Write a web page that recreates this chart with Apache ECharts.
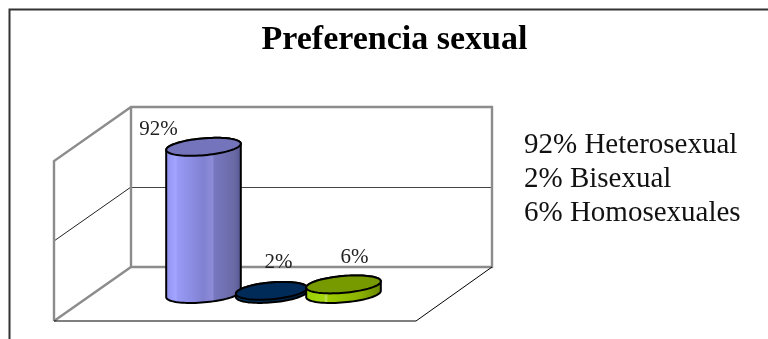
<!DOCTYPE html>
<html><head><meta charset="utf-8">
<style>html,body{margin:0;padding:0;background:#fff}#c{width:768px;height:339px}</style>
<script src="https://cdn.jsdelivr.net/npm/echarts@6/dist/echarts.min.js"></script>
</head><body><div id="c"></div>
<script>
const titleText = 'Preferencia sexual';
const categories = ['Heterosexual', 'Bisexual', 'Homosexuales'];
const values = [92, 2, 6];
const sideLabels = ['92% Heterosexual', '2% Bisexual', '6% Homosexuales'];
const wallTicks = [0, 50, 100];

const FONT = '"Liberation Serif", serif';
const GREY = '#8c8c8c';
const themes = [
  {top:'#7474bc', stroke:'#000', stops:[[0,'#8f8fe8'],[.08,'#9a9cfa'],[.14,'#a3a5ff'],[.16,'#989af6'],[.5,'#8181d2'],[.62,'#8c8cd8'],[.64,'#7777c0'],[.8,'#6f6fb0'],[.9,'#6a6aa6'],[1,'#555590']]},
  {top:'#002a58', stroke:'#000', stops:[[0,'#003a70'],[1,'#001e40']]},
  {top:'#769a00', stroke:'#000', stops:[[0,'#99cc00'],[.25,'#a6d810'],[.27,'#c0e060'],[.3,'#9ccb00'],[.7,'#8cb400'],[1,'#688800']]}
];
const labelOffset = [[-45,-17],[7,-28],[11,-27]];
const centerNudge = [0,-2,0];
const radiusScale = [1,.955,1];

function ellipse(cx, cy, rx, ry, from, to, n) {
  const a = -5 * Math.PI / 180, pts = [];
  for (let k = 0; k <= n; k++) {
    const t = from + (to - from) * k / n;
    pts.push([
      cx + rx * Math.cos(t) * Math.cos(a) - ry * Math.sin(t) * Math.sin(a),
      cy + rx * Math.cos(t) * Math.sin(a) + ry * Math.sin(t) * Math.cos(a)
    ]);
  }
  return pts;
}

function renderCylinder(params, api) {
  const i = api.value(0), v = api.value(1);
  const base = api.coord([i, 0]), top = api.coord([i, v]);
  const t = themes[i];
  const cx = base[0] + centerNudge[i];
  const rx = api.size([1, 0])[0] * 0.535 * radiusScale[i], ry = 8.4;
  const body = ellipse(cx, base[1], rx, ry, 0, Math.PI, 40)
    .concat(ellipse(cx, top[1], rx, ry, Math.PI, 2 * Math.PI, 40));
  return {type:'group', children:[
    {type:'polygon', shape:{points:body},
     style:{fill:{type:'linear',x:0,y:0,x2:1,y2:0,colorStops:t.stops.map(s=>({offset:s[0],color:s[1]}))},stroke:t.stroke,lineWidth:2}},
    {type:'polygon', shape:{points:ellipse(cx, top[1], rx, ry, 0, 2*Math.PI, 80)},
     style:{fill:t.top,stroke:t.stroke,lineWidth:2}},
    {type:'text', style:{text:v+'%',x:cx+labelOffset[i][0],y:top[1]+labelOffset[i][1],
      align:'center',verticalAlign:'middle',font:'21px '+FONT,fill:'#222'}}
  ]};
}

const line = (points, stroke, lineWidth) => ({type:'polyline', z:2, shape:{points}, style:{fill:null, stroke, lineWidth}});

const chart = echarts.init(document.getElementById('c'), null, {renderer:'canvas'});
chart.setOption({
  animation:false,
  backgroundColor:'#fff',
  title:{text:titleText,left:389.5,top:18,textAlign:'center',
    textStyle:{fontFamily:FONT,fontSize:34,fontWeight:'bold',color:'#000'}},
  grid:[
    {left:131,top:107,width:362,height:160},
    {left:168.5,top:134,width:210,height:160}
  ],
  xAxis:[
    {gridIndex:0,type:'category',data:categories,show:false},
    {gridIndex:1,type:'category',data:categories,show:false}
  ],
  yAxis:[
    {gridIndex:0,type:'value',min:wallTicks[0],max:wallTicks[2],interval:wallTicks[1],
     axisLine:{show:false},axisTick:{show:false},axisLabel:{show:false},
     splitLine:{show:true,lineStyle:{color:'#444',width:1}}},
    {gridIndex:1,type:'value',min:0,max:100,show:false}
  ],
  graphic:[
    line([[9.5,339],[9.5,9.5],[768,9.5]],'#333',2),
    line([[54,241],[131,187]],'#222',1),
    line([[54,321],[131,267],[492,267],[492,107],[131,107],[54,161],[54,321]],GREY,2.4),
    line([[131,107],[131,267]],GREY,2.4),
    line([[54,321],[416,321],[492,267]],'#000',1),
    ...sideLabels.map((s,k)=>({type:'text',z:3,style:{text:s,x:524,y:145+k*34,verticalAlign:'middle',font:'29px '+FONT,fill:'#111'}}))
  ],
  series:[{
    type:'custom',xAxisIndex:1,yAxisIndex:1,z:10,clip:false,
    data:values.map((v,i)=>[i,v]),
    encode:{x:0,y:1},
    renderItem:renderCylinder
  }]
});
</script></body></html>
